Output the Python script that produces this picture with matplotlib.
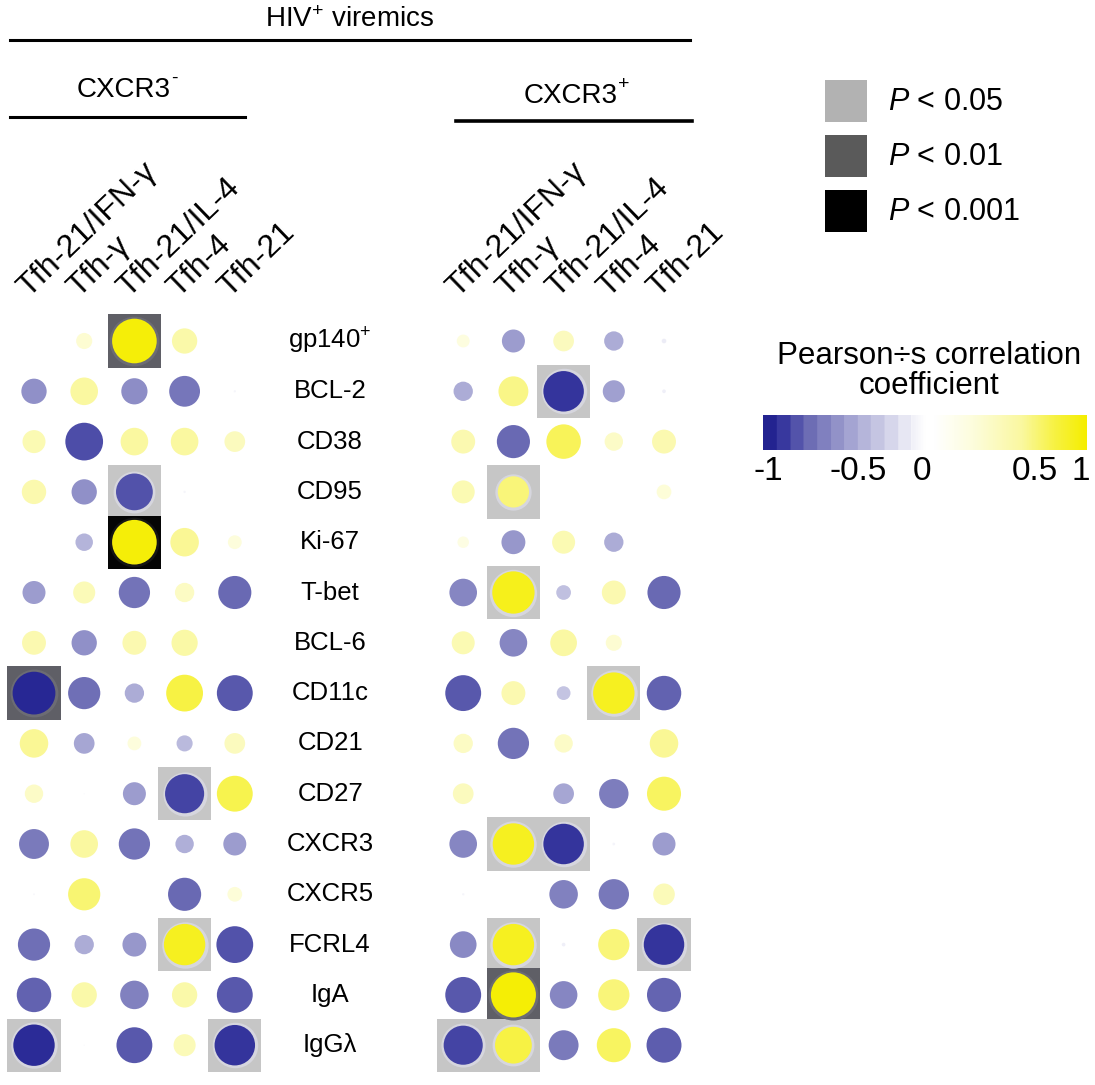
import numpy as np
import matplotlib
matplotlib.use('Agg')
import matplotlib.pyplot as plt
from matplotlib.colors import LinearSegmentedColormap
from matplotlib.patches import Rectangle
from matplotlib.lines import Line2D

plt.rcParams['font.family'] = ['Liberation Sans', 'DejaVu Sans']
plt.rcParams['mathtext.fontset'] = 'custom'
plt.rcParams['mathtext.rm'] = 'Liberation Sans'
plt.rcParams['mathtext.it'] = 'Liberation Sans:italic'

# ---- data ----
row_labels = ['gp140$^{+}$', 'BCL-2', 'CD38', 'CD95', 'Ki-67', 'T-bet', 'BCL-6',
              'CD11c', 'CD21', 'CD27', 'CXCR3', 'CXCR5', 'FCRL4', 'IgA', 'IgGλ']
col_labels = ['Tfh-21/IFN-γ', 'Tfh-γ', 'Tfh-21/IL-4', 'Tfh-4', 'Tfh-21']
group_labels = ['CXCR3', 'CXCR3']
group_signs = ['-', '+']

# Pearson r, CXCR3- group
r_left = [
    [0.02, 0.35, 0.97, 0.55, 0.05],
    [-0.55, 0.60, -0.57, -0.67, -0.05],
    [0.50, -0.82, 0.60, 0.60, 0.45],
    [0.53, -0.55, -0.80, -0.05, 0.03],
    [0.02, -0.38, 0.97, 0.62, 0.30],
    [-0.50, 0.48, -0.68, 0.42, -0.72],
    [0.52, -0.55, 0.52, 0.57, 0.00],
    [-0.93, -0.70, -0.42, 0.80, -0.78],
    [0.62, -0.45, 0.30, -0.35, 0.45],
    [0.40, -0.03, -0.50, -0.85, 0.78],
    [-0.65, 0.60, -0.68, -0.40, -0.50],
    [-0.04, 0.70, 0.00, -0.72, 0.32],
    [-0.70, -0.42, -0.52, 0.90, -0.80],
    [-0.75, 0.55, -0.62, 0.55, -0.78],
    [-0.90, -0.03, -0.78, 0.48, -0.88],
]
# Pearson r, CXCR3+ group
r_right = [
    [0.28, -0.50, 0.45, -0.42, -0.10],
    [-0.42, 0.65, -0.88, -0.48, -0.08],
    [0.52, -0.72, 0.75, 0.40, 0.52],
    [0.50, 0.68, 0.03, 0.00, 0.32],
    [0.25, -0.52, 0.50, -0.42, 0.05],
    [-0.60, 0.92, -0.32, 0.52, -0.72],
    [0.50, -0.60, 0.58, 0.35, 0.00],
    [-0.78, 0.52, -0.30, 0.90, -0.75],
    [0.42, -0.68, 0.40, 0.02, 0.62],
    [0.45, 0.02, -0.45, -0.64, 0.74],
    [-0.60, 0.90, -0.88, -0.06, -0.50],
    [-0.05, 0.02, -0.62, -0.66, 0.47],
    [-0.58, 0.90, -0.08, 0.68, -0.88],
    [-0.78, 0.98, -0.60, 0.68, -0.74],
    [-0.85, 0.80, -0.65, 0.74, -0.76],
]
# significance: 0 none, 1 P<0.05, 2 P<0.01, 3 P<0.001
sig_left = [
    [0, 0, 2, 0, 0], [0, 0, 0, 0, 0], [0, 0, 0, 0, 0], [0, 0, 1, 0, 0],
    [0, 0, 3, 0, 0], [0, 0, 0, 0, 0], [0, 0, 0, 0, 0], [2, 0, 0, 0, 0],
    [0, 0, 0, 0, 0], [0, 0, 0, 1, 0], [0, 0, 0, 0, 0], [0, 0, 0, 0, 0],
    [0, 0, 0, 1, 0], [0, 0, 0, 0, 0], [1, 0, 0, 0, 1],
]
sig_right = [
    [0, 0, 0, 0, 0], [0, 0, 1, 0, 0], [0, 0, 0, 0, 0], [0, 1, 0, 0, 0],
    [0, 0, 0, 0, 0], [0, 1, 0, 0, 0], [0, 0, 0, 0, 0], [0, 0, 0, 1, 0],
    [0, 0, 0, 0, 0], [0, 0, 0, 0, 0], [0, 1, 1, 0, 0], [0, 0, 0, 0, 0],
    [0, 1, 0, 0, 1], [0, 2, 0, 0, 0], [1, 1, 0, 0, 0],
]
sig_labels = ['0.05', '0.01', '0.001']
cbar_ticks = [-1, -0.5, 0, 0.5, 1]

# ---- styling ----
W, H = 1095, 1085
cmap = LinearSegmentedColormap.from_list('by', [
    (0.00, '#1e1e8c'), (0.05, '#2c2c98'), (0.075, '#4444a4'), (0.15, '#7070b6'),
    (0.25, '#9c9cce'), (0.35, '#c4c4e2'), (0.45, '#ececf6'), (0.50, '#ffffff'),
    (0.53, '#ffffff'), (0.65, '#fdfddc'), (0.80, '#faf8a0'), (0.90, '#f7f245'),
    (1.00, '#f5ee00')])
sig_fill = {1: '#c6c6c6', 2: '#5f5f66', 3: '#050505'}
halo_fill = {1: '#d6d6de', 2: '#6c6c74', 3: '#151515'}
legend_fill = ['#b2b2b2', '#5a5a5a', '#000000']


def fx(px):
    return px / W


def fy(py):
    return 1 - py / H


fig = plt.figure(figsize=(W / 100, H / 100), dpi=100)

# main dot grid, 1 data unit = one cell
ax = fig.add_axes([0, 0, fx(700), (1085 - 310) / H])
ax.set_xlim(-34 / 50.2, (700 - 34) / 50.2)
ax.set_ylim((1085 - 341) / 50.3, (310 - 341) / 50.3)
ax.axis('off')

offsets = [0, 8.55]
n_rows = len(row_labels)
for g, (rr, ss) in enumerate([(r_left, sig_left), (r_right, sig_right)]):
    rr = np.array(rr)
    ss = np.array(ss)
    xs = np.arange(len(col_labels)) + offsets[g]
    ys = np.arange(n_rows)
    X, Y = np.meshgrid(xs, ys)
    for (j, i), lvl in np.ndenumerate(ss):
        if lvl:
            ax.add_patch(Rectangle((xs[i] - 0.53, ys[j] - 0.53), 1.06, 1.06,
                                   facecolor=sig_fill[lvl], edgecolor='none', zorder=1))
            ax.scatter(xs[i], ys[j], s=((abs(rr[j, i]) * 46 + 5) * 0.72) ** 2,
                       color=halo_fill[lvl], linewidths=0, zorder=2)
    ax.scatter(X.ravel(), Y.ravel(), c=rr.ravel(), cmap=cmap, vmin=-1, vmax=1,
               s=(np.abs(rr.ravel()) * 46 * 0.72) ** 2, linewidths=0, zorder=3)
    for i, lab in enumerate(col_labels):
        ax.text(xs[i] - 0.12, -0.85, lab, rotation=44, rotation_mode='anchor',
                ha='left', va='baseline', fontsize=23, clip_on=False)

for j, lab in enumerate(row_labels):
    ax.text(5.9, j, lab, ha='center', va='center', fontsize=18.5)

# headers and bracket lines
fig.text(fx(350), fy(20), 'HIV$^{+}$ viremics', ha='center', va='center', fontsize=20)
fig.add_artist(Line2D([fx(10), fx(690)], [fy(40), fy(40)], color='black', lw=2.2))
for g, (cx, cy) in enumerate([(124, 90), (571, 96)]):
    t = fig.text(fx(cx), fy(cy), group_labels[g], ha='center', va='center', fontsize=20)
    ax.annotate(group_signs[g], xy=(1, 0.62), xycoords=t, ha='left', va='bottom',
                fontsize=14, annotation_clip=False)
fig.add_artist(Line2D([fx(10), fx(245)], [fy(117), fy(117)], color='black', lw=2.2))
fig.add_artist(Line2D([fx(456), fx(692)], [fy(121), fy(121)], color='black', lw=2.6))

# significance legend
for k, lab in enumerate(sig_labels):
    top = 80 + 55 * k
    fig.add_artist(Rectangle((fx(825), fy(top + 42)), 42 / W, 42 / H,
                             facecolor=legend_fill[k], edgecolor='none',
                             transform=fig.transFigure))
    fig.text(fx(888), fy(top + 22), '$\\it{P}$ < ' + lab, ha='left', va='center',
             fontsize=22)

# colour bar
fig.text(fx(929), fy(371), "Pearson÷s correlation\ncoefficient", ha='center',
         va='center', fontsize=22.5, linespacing=1.0)
cax = fig.add_axes([fx(763), fy(450), (1087 - 763) / W, 35 / H])
grad = np.linspace(-1, 1, 400)
grad = np.where(grad < -0.08, np.floor(grad * 12) / 12 + 1 / 24, grad)
cax.imshow(grad[np.newaxis, :], cmap=cmap, vmin=-1, vmax=1, aspect='auto',
           extent=[-1, 1, 0, 1])
for sp in cax.spines.values():
    sp.set_visible(False)
cax.set_yticks([])
cax.set_xticks([-0.97, -0.41, -0.02, 0.68, 0.96])
cax.set_xticklabels([('%g' % t) for t in cbar_ticks], fontsize=24)
cax.tick_params(axis='x', length=0, pad=4)

fig.savefig('out.png', dpi=100)
